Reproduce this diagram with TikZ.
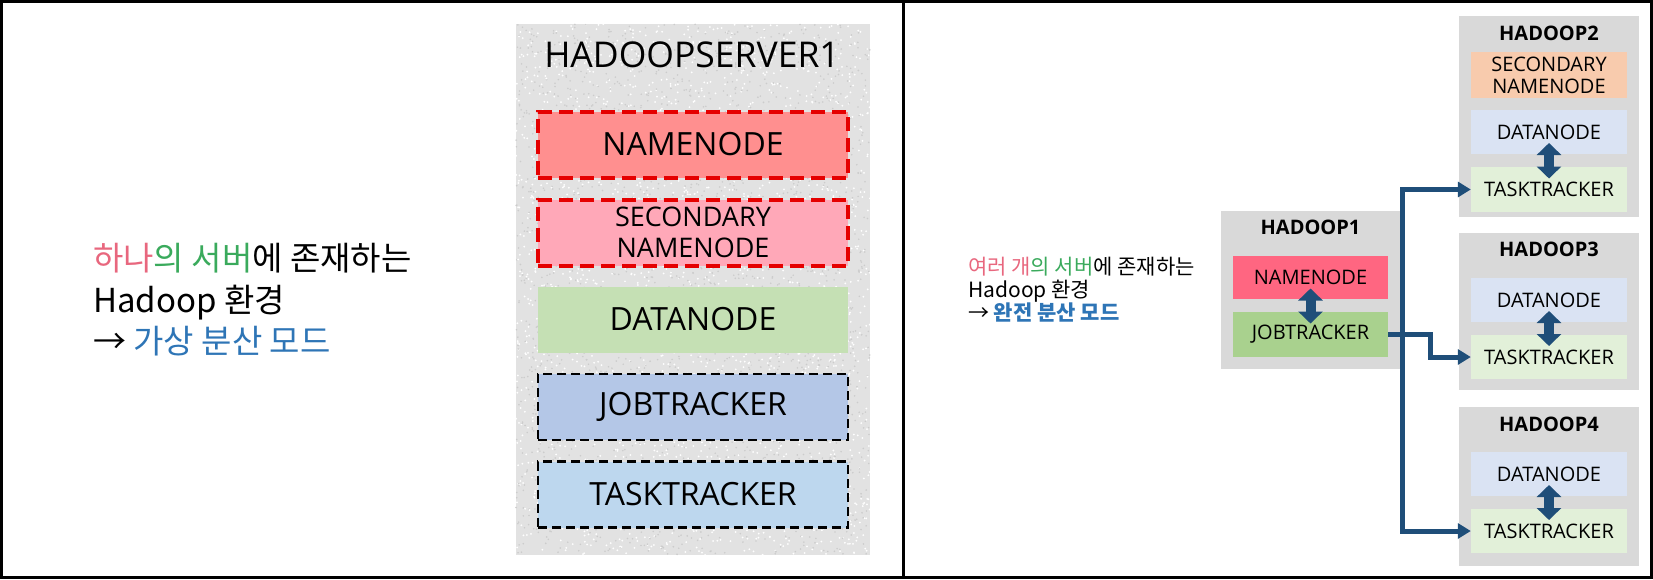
\documentclass[tikz,border=0pt]{standalone}
\usepackage{fontspec}
\setmainfont{Open Sans}
\newfontfamily\kr{Noto Sans CJK KR}
\usetikzlibrary{arrows.meta}
\definecolor{krpink}{HTML}{E8677E}
\definecolor{krgreen}{HTML}{3AAA5C}
\definecolor{krblue}{HTML}{2E75B6}
\definecolor{arrowblue}{HTML}{1F4E79}
\definecolor{granite}{HTML}{E2E2E2}
\definecolor{hostgray}{HTML}{D9D9D9}
\begin{document}
\begin{tikzpicture}[x=1pt,y=-1pt,
  srvbox/.style={minimum width=310pt,minimum height=66pt,inner sep=0pt,font=\fontsize{32}{34}\selectfont,align=center},
  reddash/.style={draw=red!90!black,line width=4pt,dash pattern=on 14pt off 7pt},
  blackdash/.style={draw=black,line width=2.5pt,dash pattern=on 9pt off 5pt},
  host/.style={fill=hostgray,inner sep=0pt,minimum width=180pt},
  hosttitle/.style={font=\bfseries\fontsize{20}{22}\selectfont,inner sep=0pt},
  part/.style={minimum width=156pt,minimum height=45pt,inner sep=0pt,font=\fontsize{20}{22}\selectfont,align=center},
  flow/.style={draw=arrowblue,line width=5pt,-{Triangle[length=13pt,width=15pt]}},
  biarrow/.style={draw=arrowblue,line width=10pt,{Triangle[length=12pt,width=24pt]}-{Triangle[length=12pt,width=24pt]},shorten <=11pt,shorten >=11pt}]
\useasboundingbox (0,0) rectangle (1653,579);
\draw[line width=3pt] (1.5,1.5) rectangle (903.5,577.5);
\draw[line width=3pt] (903.5,1.5) rectangle (1651.5,577.5);

% left: one server
\node[anchor=west,align=left,inner sep=0pt,font=\kr\fontsize{33}{41.5}\selectfont] (textL) at (93,300)
  {\textcolor{krpink}{하나}\textcolor{krgreen}{의 서버}에 존재하는\\Hadoop 환경\\→ \textcolor{krblue}{가상 분산 모드}};
\fill[granite] (516,24) rectangle (870,555);
\pgfmathsetseed{11}
\foreach \i in {1,...,2400}{
  \fill[gray!40] (516+354*rnd,24+531*rnd) circle (0.9pt);
  \fill[white] (516+354*rnd,24+531*rnd) circle (1pt);
}
\node[font=\fontsize{35.5}{38}\selectfont,inner sep=0pt] (server) at (692,55) {HADOOPSERVER1};
\node[srvbox,fill={rgb,255:red,255;green,143;blue,143},reddash] (nn) at (693,144.5) {NAMENODE};
\node[srvbox,fill={rgb,255:red,255;green,168;blue,184},reddash,font=\fontsize{27}{31}\selectfont] (snn) at (693,232.5) {SECONDARY\\NAMENODE};
\node[srvbox,fill={rgb,255:red,197;green,224;blue,180}] (dn) at (693,319.5) {DATANODE};
\node[srvbox,fill={rgb,255:red,180;green,199;blue,231},blackdash] (jt) at (693,407) {JOBTRACKER};
\node[srvbox,fill={rgb,255:red,189;green,215;blue,238},blackdash] (tt) at (693,494.5) {TASKTRACKER};

% right: four servers
\node[anchor=west,align=left,inner sep=0pt,font=\kr\fontsize{21}{23}\selectfont] (textR) at (968,289.5)
  {\textcolor{krpink}{여러 개}\textcolor{krgreen}{의 서버}에 존재하는\\Hadoop 환경\\→ \textcolor{krblue}{\bfseries 완전 분산 모드}};

\node[host,minimum width=179pt,minimum height=158pt] (h1) at (1310.5,290) {};
\node[hosttitle] (t1) at (1310.5,227) {HADOOP1};
\node[part,minimum width=155pt,minimum height=43pt,fill={rgb,255:red,255;green,102;blue,129}] (nn1) at (1310.5,277.5) {NAMENODE};
\node[part,minimum width=155pt,fill={rgb,255:red,169;green,209;blue,142}] (jt1) at (1310.5,334.5) {JOBTRACKER};

\node[host,minimum height=201pt] (h2) at (1549,116.5) {};
\node[hosttitle] (t2) at (1549,33) {HADOOP2};
\node[part,minimum height=46pt,fill={rgb,255:red,248;green,203;blue,173}] (snn2) at (1549,75) {SECONDARY\\NAMENODE};
\node[part,minimum height=44pt,fill={rgb,255:red,218;green,227;blue,243}] (dn2) at (1549,132) {DATANODE};
\node[part,fill={rgb,255:red,226;green,240;blue,217}] (tt2) at (1549,189.5) {TASKTRACKER};

\node[host,minimum height=157pt] (h3) at (1549,311.5) {};
\node[hosttitle] (t3) at (1549,249) {HADOOP3};
\node[part,minimum height=44pt,fill={rgb,255:red,218;green,227;blue,243}] (dn3) at (1549,300) {DATANODE};
\node[part,minimum height=44pt,fill={rgb,255:red,226;green,240;blue,217}] (tt3) at (1549,357) {TASKTRACKER};

\node[host,minimum height=159pt] (h4) at (1549,486.5) {};
\node[hosttitle] (t4) at (1549,424) {HADOOP4};
\node[part,minimum height=44pt,fill={rgb,255:red,218;green,227;blue,243}] (dn4) at (1549,474) {DATANODE};
\node[part,minimum height=44pt,fill={rgb,255:red,226;green,240;blue,217}] (tt4) at (1549,531) {TASKTRACKER};

\draw[biarrow] (nn1.center) -- (jt1.center);
\draw[biarrow] (dn2.center) -- (tt2.center);
\draw[biarrow] (dn3.center) -- (tt3.center);
\draw[biarrow] (dn4.center) -- (tt4.center);

\coordinate (split) at (1402.5,334.5);
\draw[flow] (jt1.east) -- (split) |- (tt2.west);
\draw[flow] (split) |- (tt4.west);
\draw[flow] (jt1.east) -- ++(42,0) |- (tt3.west);
\end{tikzpicture}
\end{document}
